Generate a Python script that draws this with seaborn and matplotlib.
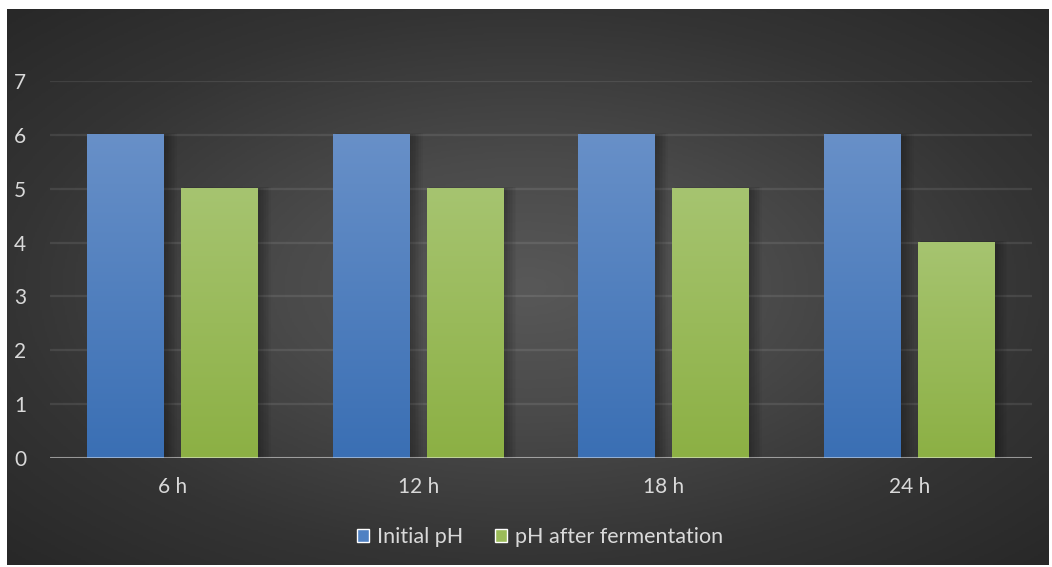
import numpy as np
import pandas as pd
import matplotlib
matplotlib.use("Agg")
import matplotlib.pyplot as plt
from matplotlib.colors import LinearSegmentedColormap
from matplotlib.patches import Patch, Rectangle
import seaborn as sns

# Data
times = ["6 h", "12 h", "18 h", "24 h"]
initial_ph = [6, 6, 6, 6]
after_ph = [5, 5, 5, 4]
series_names = ["Initial pH", "pH after fermentation"]

df = pd.DataFrame({
    "time": times * 2,
    "pH": initial_ph + after_ph,
    "series": [series_names[0]] * len(times) + [series_names[1]] * len(times),
})

sns.set_theme(style="dark")
plt.rcParams["font.family"] = ["Lato", "DejaVu Sans"]

W, H = 1052, 567
fig = plt.figure(figsize=(W / 100, H / 100), dpi=100, facecolor="white")

# Dark radial-gradient panel behind everything
bg = fig.add_axes([7 / W, 2 / H, (1049 - 7) / W, (558 - 2) / H], zorder=0)
yy, xx = np.mgrid[-1:1:300j, -1:1:560j]
r = np.sqrt(xx ** 2 + yy ** 2) / np.sqrt(2)
bg_cmap = LinearSegmentedColormap.from_list(
    "bg", [(0.0, "#585858"), (0.33, "#4a4a4a"), (0.7, "#343434"), (1.0, "#282828")])
bg.imshow(r, cmap=bg_cmap, aspect="auto", extent=[0, 1, 0, 1], vmin=0, vmax=1)
bg.set_axis_off()

ax = fig.add_axes([50 / W, 109 / H, (1032 - 50) / W, (458 - 81) / H], zorder=1)
ax.patch.set_alpha(0)

palette = {series_names[0]: "#4f7fc0", series_names[1]: "#9bbb59"}
sns.barplot(data=df, x="time", y="pH", hue="series", palette=palette,
            width=0.764, gap=0.18, ax=ax, legend=False, errorbar=None)

grads = {
    series_names[0]: ("#3a6fb4", "#6890c8"),
    series_names[1]: ("#8cb044", "#a6c470"),
}

bars = [p for p in ax.patches if isinstance(p, Rectangle) and p.get_height() > 0]
n = len(times)
for i, p in enumerate(bars):
    name = series_names[0] if i < n else series_names[1]
    x0, w, h = p.get_x(), p.get_width(), p.get_height()
    # soft shadow on the right side
    for k in range(8):
        d = 0.005 * (k + 1)
        ax.add_patch(Rectangle((x0 + d * 0.3, 0), w + d, h + d * 0.8,
                               facecolor="black", edgecolor="none",
                               alpha=0.035, zorder=1.5))
    cmap = LinearSegmentedColormap.from_list("g" + str(i), list(grads[name]))
    grad = np.linspace(0, 1, 256).reshape(-1, 1)
    ax.imshow(grad, cmap=cmap, aspect="auto", origin="lower",
              extent=[x0, x0 + w, 0, h], zorder=2, interpolation="bicubic")
    p.set_alpha(0)

ax.set_xlim(-0.5, n - 0.5)
ax.set_ylim(0, 7)
ax.set_yticks(range(0, 8))
ax.yaxis.grid(True, color="white", alpha=0.09, linewidth=1.6)
ax.xaxis.grid(False)
ax.set_axisbelow(True)
ax.axhline(0, color="white", alpha=0.45, linewidth=2.2, zorder=3)
for s in ax.spines.values():
    s.set_visible(False)
ax.set_xlabel("")
ax.set_ylabel("")
ax.tick_params(axis="both", length=0, colors="#d9d9d9", labelsize=15)
ax.tick_params(axis="x", pad=14)
ax.tick_params(axis="y", pad=17)

handles = [Patch(facecolor="#4f81c3"), Patch(facecolor="#9bbb59")]
leg = fig.legend(handles, series_names, loc="center", bbox_to_anchor=(540 / W, 1 - 537 / H),
                 ncol=2, frameon=False, fontsize=15.5, handlelength=0.55, handleheight=0.55,
                 handletextpad=0.35, columnspacing=1.5)
for t in leg.get_texts():
    t.set_color("#d9d9d9")

fig.savefig("out.png", dpi=100, facecolor="white")
